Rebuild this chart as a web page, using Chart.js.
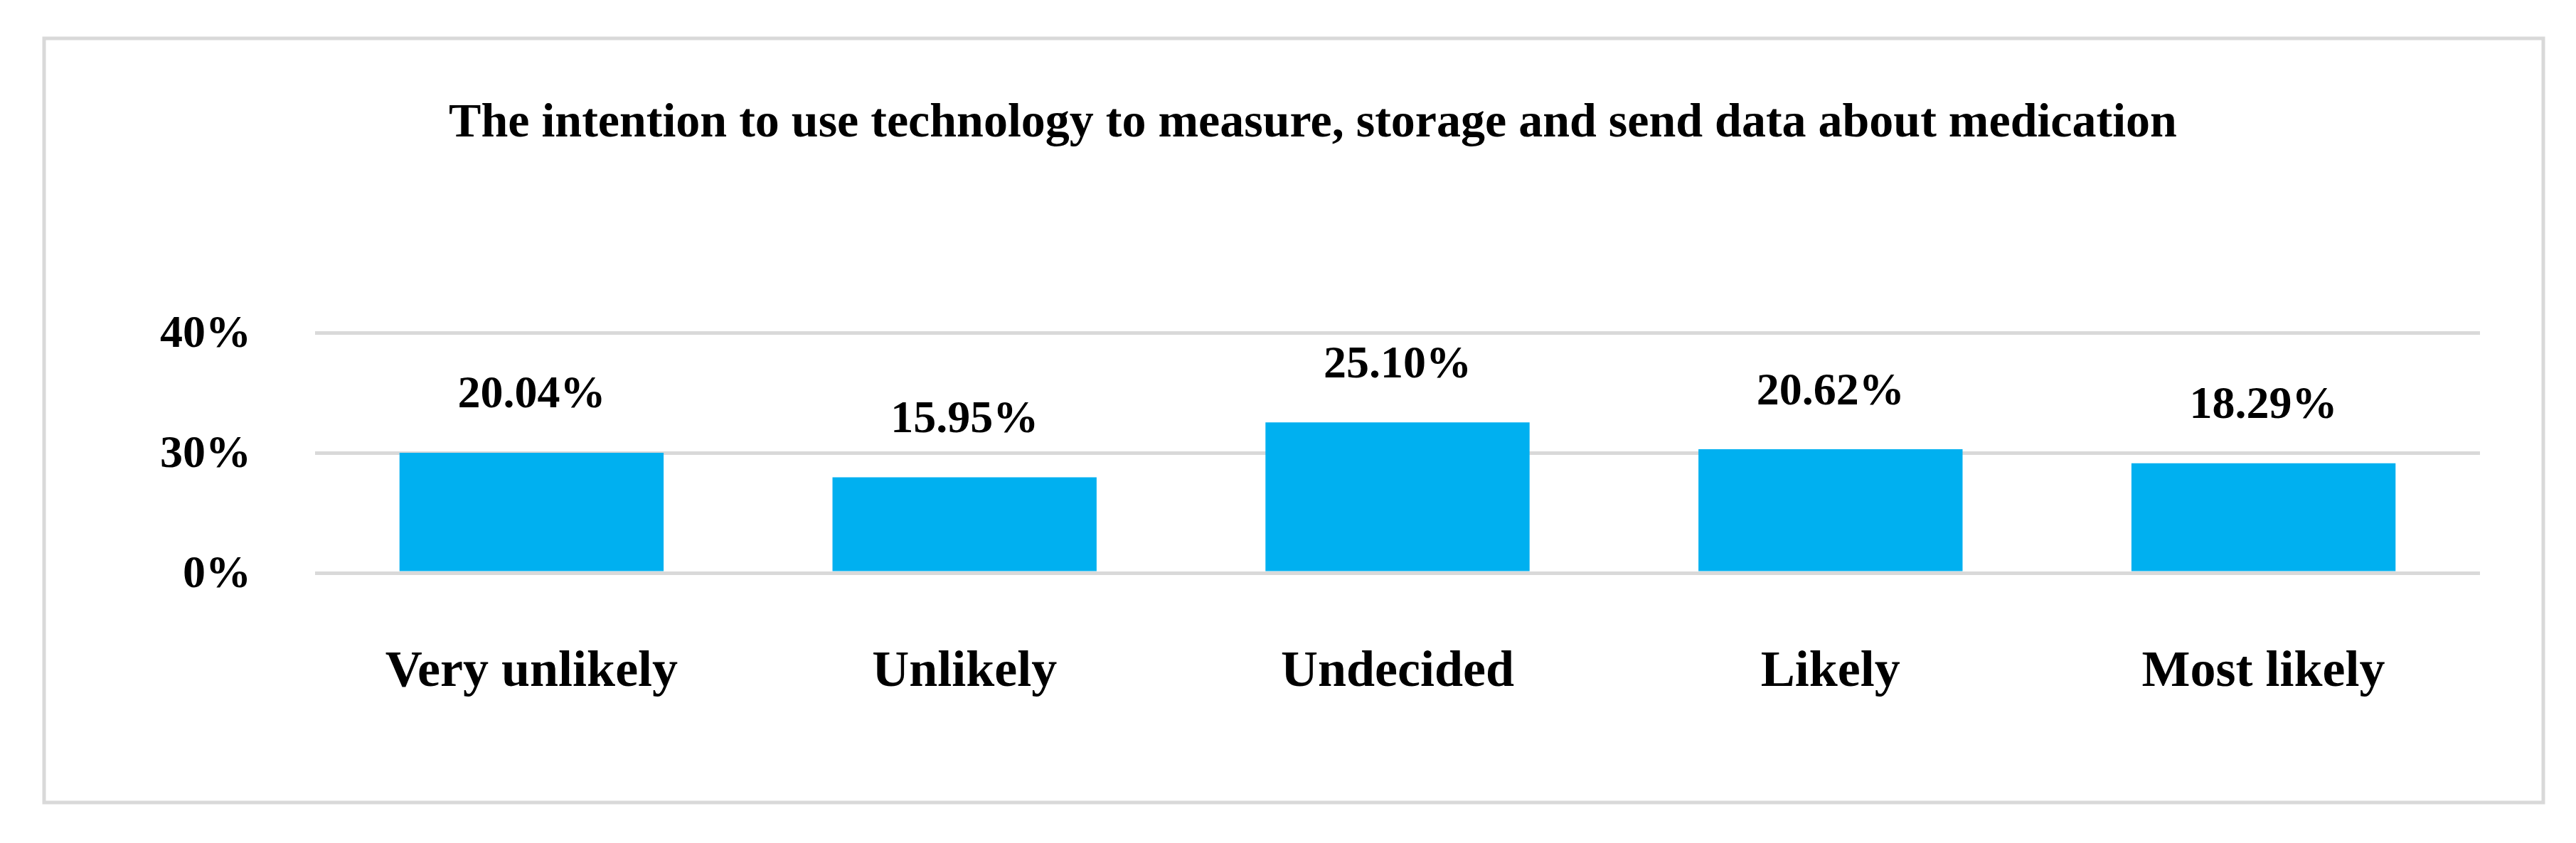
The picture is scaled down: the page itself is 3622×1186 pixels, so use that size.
<!DOCTYPE html>
<html>
<head>
<meta charset="utf-8">
<script src="https://cdn.jsdelivr.net/npm/chart.js@4/dist/chart.umd.min.js"></script>
<style>
  html, body { margin: 0; padding: 0; background: #fff; }
  #wrap { width: 3622px; height: 1186px; }
</style>
</head>
<body>
<div id="wrap"><canvas id="bar-chart" width="3622" height="1186"></canvas></div>
<script>
var categories = ['Very unlikely', 'Unlikely', 'Undecided', 'Likely', 'Most likely'];
var shares = [20.04, 15.95, 25.10, 20.62, 18.29];
// gridlines sit at 0/20/40 but the original figure labels them 0%, 30%, 40%
var yTickValues = [0, 20, 40];
var yTickLabels = ['0%', '30%', '40%'];
var chartTitle = 'The intention to use technology to measure, storage and send data about medication';

var serif = '"Liberation Serif", "DejaVu Serif", serif';

// white page + light grey frame round the figure
var framePlugin = {
    id: 'frame',
    beforeDraw: function(chart) {
        var c = chart.ctx;
        c.save();
        c.fillStyle = '#ffffff';
        c.fillRect(0, 0, chart.width, chart.height);
        c.strokeStyle = '#d9d9d9';
        c.lineWidth = 5;
        c.strokeRect(62, 54, 3514, 1075);
        c.restore();
    }
};

// value labels above each bar
var valueLabels = {
    id: 'valueLabels',
    afterDatasetsDraw: function(chart) {
        var c = chart.ctx;
        var meta = chart.getDatasetMeta(0);
        c.save();
        c.font = 'bold 64px ' + serif;
        c.fillStyle = '#000';
        c.textAlign = 'center';
        c.textBaseline = 'middle';
        meta.data.forEach(function(bar, i) {
            c.fillText(shares[i].toFixed(2) + '%', bar.x, bar.y - 80);
        });
        c.restore();
    }
};

var ctx = document.getElementById('bar-chart').getContext('2d');

var myChart = new Chart(ctx, {
    type: 'bar',
    data: {
        labels: categories,
        datasets: [{
            data: shares,
            backgroundColor: '#00b0f0',
            borderWidth: 0,
            barPercentage: 0.61,
            categoryPercentage: 1.0
        }]
    },
    options: {
        responsive: false,
        animation: false,
        devicePixelRatio: 1,
        layout: { padding: { left: 205, right: 135, top: 0, bottom: 0 } },
        plugins: {
            legend: { display: false },
            tooltip: { enabled: false },
            title: {
                display: true,
                text: chartTitle,
                color: '#000',
                font: { family: serif, size: 68, weight: 'bold' },
                padding: { top: 134, bottom: 253 }
            }
        },
        scales: {
            x: {
                grid: { display: false },
                border: { display: false },
                ticks: {
                    color: '#000',
                    font: { family: serif, size: 72, weight: 'bold' },
                    padding: 89,
                    maxRotation: 0
                },
                afterFit: function(scale) { scale.height = 380; }
            },
            y: {
                min: 0,
                max: 40,
                afterBuildTicks: function(scale) {
                    scale.ticks = yTickValues.map(function(v) { return { value: v }; });
                },
                grid: { color: '#d9d9d9', lineWidth: 5, drawTicks: false },
                border: { display: false },
                ticks: {
                    color: '#000',
                    font: { family: serif, size: 64, weight: 'bold' },
                    padding: 90,
                    labelOffset: 3,
                    callback: function(value) {
                        var i = yTickValues.indexOf(value);
                        return i >= 0 ? yTickLabels[i] : '';
                    }
                },
                afterFit: function(scale) { scale.width = 238; }
            }
        }
    },
    plugins: [framePlugin, valueLabels]
});
</script>
</body>
</html>
